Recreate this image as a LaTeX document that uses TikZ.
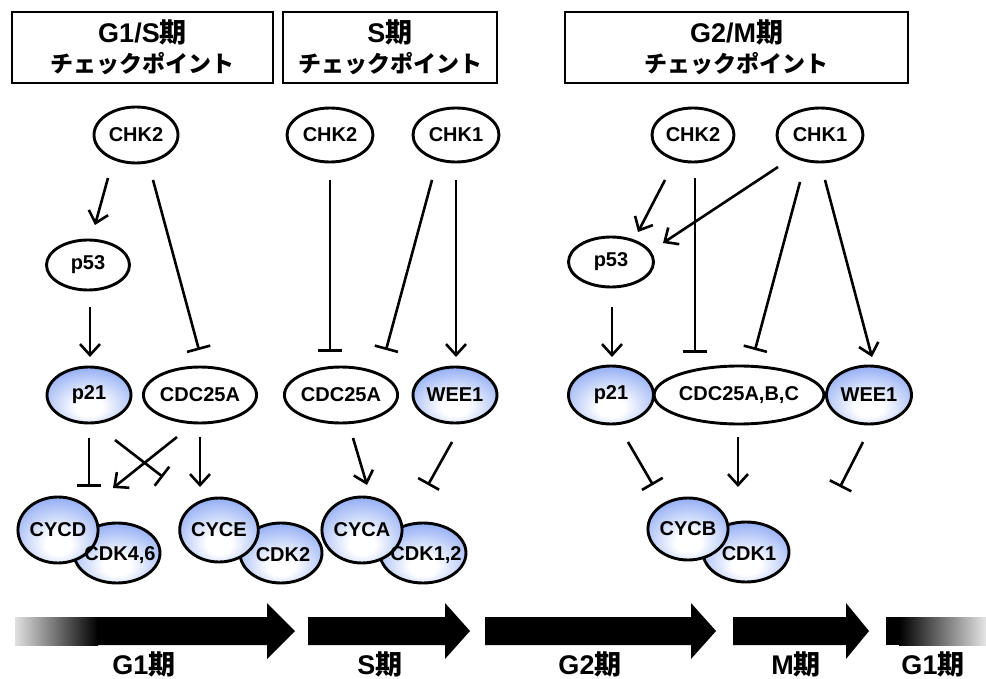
\documentclass[tikz,border=0pt]{standalone}
\usepackage{fontspec}
\setmainfont{Liberation Sans}
\newfontfamily\jp{Noto Sans CJK JP}
\usetikzlibrary{arrows.meta,shapes.geometric,calc}
\definecolor{nodeblue}{RGB}{95,135,240}
\pgfdeclareradialshading{ballblue}{\pgfpoint{0bp}{-12bp}}{color(0bp)=(white); color(8bp)=(white); color(44bp)=(nodeblue); color(80bp)=(nodeblue)}
\tikzset{
  every node/.style={font=\bfseries\fontsize{20pt}{24pt}\selectfont},
  sz/.style 2 args={minimum width=#1pt, minimum height=#2pt},
  plain/.style={ellipse, draw, line width=2.9pt, fill=white, inner sep=0pt},
  prot/.style={ellipse, draw, line width=2.9pt, shading=ballblue, inner sep=0pt},
  act/.style={line width=2.6pt, -{Straight Barb[length=11pt,width=20pt]}},
  inh/.style={line width=2.6pt, -{Bar[width=24pt]}},
  hdr/.style={draw, line width=2.8pt, align=center, inner sep=0pt,
    font=\bfseries\fontsize{23pt}{30pt}\selectfont},
  big/.style={font=\bfseries\fontsize{27pt}{30pt}\selectfont},
}
\newcommand{\hdrtop}[1]{{\fontsize{27pt}{30pt}\selectfont #1}}
\begin{document}
\begin{tikzpicture}[x=1pt,y=-1pt]
\useasboundingbox (0,0) rectangle (986,679);

% checkpoint headers
\node[hdr, sz={261}{71}] (hdr1) at (142.5,47.5) {\hdrtop{G1/S{\jp 期}}\\{\jp チェックポイント}};
\node[hdr, sz={214}{71}] (hdr2) at (390,47.5) {\hdrtop{S{\jp 期}}\\{\jp チェックポイント}};
\node[hdr, sz={343}{71}] (hdr3) at (736.5,47.5) {\hdrtop{G2/M{\jp 期}}\\{\jp チェックポイント}};

% G1/S checkpoint
\node[plain, sz={84}{56}] (chk2a) at (136,135) {CHK2};
\node[plain, sz={83}{50}] (p53a) at (88,265) {p53};
\node[prot, sz={84}{56}] (p21a) at (89,395) {p21};
\node[plain, sz={100}{56}] (cdca) at (200,395) {CDC25A};

% S checkpoint
\node[plain, sz={86}{54}] (chk2b) at (330,135) {CHK2};
\node[plain, sz={86}{54}] (chk1b) at (456,135) {CHK1};
\node[plain, sz={98}{56}] (cdcb) at (341,395) {CDC25A};
\node[prot, sz={84}{56}] (wee1b) at (455,395) {WEE1};

% G2/M checkpoint
\node[plain, sz={82}{54}] (chk2c) at (693,135) {CHK2};
\node[plain, sz={86}{54}] (chk1c) at (820,135) {CHK1};
\node[plain, sz={85}{50}] (p53c) at (611,262) {p53};
\node[prot, sz={85}{58}] (p21c) at (611,395) {p21};
\node[plain, sz={158}{58}] (cdcc) at (739,395) {CDC25A,B,C};
\node[prot, sz={85}{58}] (wee1c) at (869,395) {WEE1};

% cyclin / CDK complexes
\node[prot, sz={86}{60}] (cdk46) at (117,553) {};
\node[prot, sz={74}{66}] (cycd) at (58,530) {CYCD};
\node (cdk46t) at (120,555) {CDK4,6};
\node[prot, sz={82}{60}] (cdk2) at (281,553) {};
\node[prot, sz={66}{64}] (cyce) at (219,530) {CYCE};
\node (cdk2t) at (283,555) {CDK2};
\node[prot, sz={86}{60}] (cdk12) at (423,553) {};
\node[prot, sz={68}{66}] (cyca) at (362,530) {CYCA};
\node (cdk12t) at (426,555) {CDK1,2};
\node[prot, sz={86}{60}] (cdk1) at (746,552) {};
\node[prot, sz={70}{62}] (cycb) at (688,529) {CYCB};
\node (cdk1t) at (749,554) {CDK1};

% G1/S connectors
\draw[act] ($(chk2a)+(-28,43)$) -- ($(p53a)+(7,-40)$);
\draw[inh] ($(chk2a)+(17,45)$) -- ($(cdca)+(-1,-45)$);
\draw[act] ($(p53a)+(2,42)$) -- ($(p21a)+(1,-38)$);
\draw[inh] ($(p21a)+(0,43)$) -- ($(cycd)+(31,-43)$);
\draw[inh] ($(p21a)+(26,45)$) -- ($(cdk46)+(46,-76)$);
\draw[act] ($(cdca)+(-23,42)$) -- ($(cycd)+(55,-42)$);
\draw[act] ($(cdca)+(0,42)$) -- ($(cyce)+(-19,-43)$);

% S connectors
\draw[inh] ($(chk2b)+(0,45)$) -- ($(cdcb)+(-11,-43)$);
\draw[inh] ($(chk1b)+(-24,45)$) -- ($(cdcb)+(45,-45)$);
\draw[act] ($(chk1b)+(0,45)$) -- ($(wee1b)+(1,-38)$);
\draw[act] ($(cdcb)+(12,43)$) -- ($(cyca)+(5,-45)$);
\draw[inh] ($(wee1b)+(-3,47)$) -- ($(cdk12)+(5,-68)$);

% G2/M connectors
\draw[act] ($(chk2c)+(-28,45)$) -- ($(p53c)+(27,-30)$);
\draw[act] ($(chk1c)+(-42,32)$) -- ($(p53c)+(52,-19)$);
\draw[inh] ($(chk2c)+(2,43)$) -- ($(cdcc)+(-44,-42)$);
\draw[inh] ($(chk1c)+(-20,47)$) -- ($(cdcc)+(16,-45)$);
\draw[act] ($(chk1c)+(5,45)$) -- ($(wee1c)+(3,-38)$);
\draw[act] ($(p53c)+(1,45)$) -- ($(p21c)+(1,-38)$);
\draw[inh] ($(p21c)+(17,47)$) -- ($(cycb)+(-35,-44)$);
\draw[act] ($(cdcc)+(-1,42)$) -- ($(cdk1)+(-8,-65)$);
\coordinate (weeend) at (840,487);
\draw[inh] ($(wee1c)+(-6,47)$) -- (weeend);

% cell-cycle phase arrows
\shade[left color=black!12, right color=black] (15,617) rectangle (98,645);
\fill (97,617) -- (267,617) -- (267,603) -- (295,631) -- (267,659) -- (267,645) -- (97,645) -- cycle;
\fill (308,617) -- (445,617) -- (445,603) -- (470,631) -- (445,659) -- (445,645) -- (308,645) -- cycle;
\fill (485,617) -- (691,617) -- (691,603) -- (716,631) -- (691,659) -- (691,645) -- (485,645) -- cycle;
\fill (733,617) -- (846,617) -- (846,603) -- (869,631) -- (846,659) -- (846,645) -- (733,645) -- cycle;
\fill (886,617) rectangle (900,645);
\shade[left color=black, right color=black!10] (899,617) rectangle (986,645);

\node[big] (ph1) at (144,664) {G1{\jp 期}};
\node[big] (ph2) at (380,664) {S{\jp 期}};
\node[big] (ph3) at (590,664) {G2{\jp 期}};
\node[big] (ph4) at (796,664) {M{\jp 期}};
\node[big] (ph5) at (933,664) {G1{\jp 期}};
\end{tikzpicture}
\end{document}
